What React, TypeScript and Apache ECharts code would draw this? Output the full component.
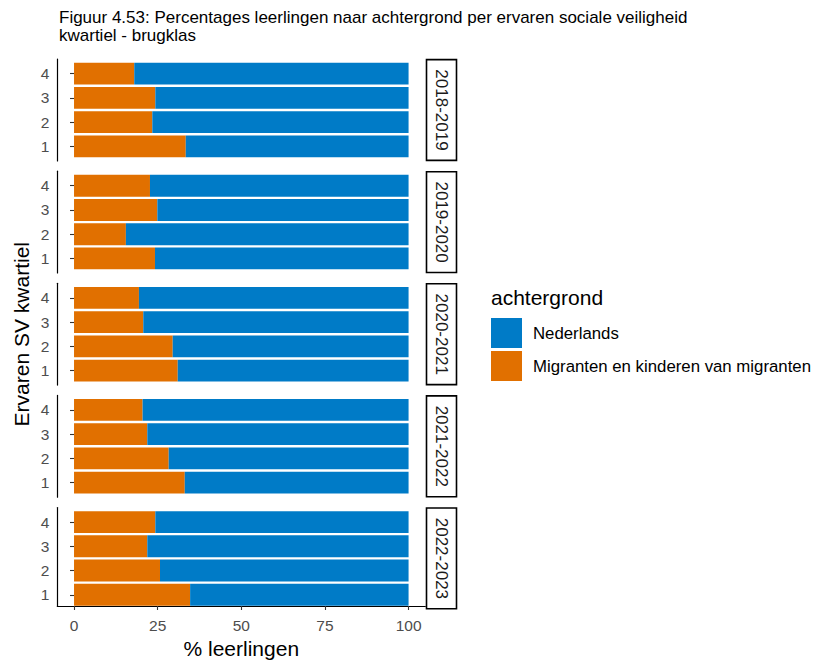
import React, { useEffect, useRef } from "react";
import * as echarts from "echarts";

const schoolYears = ["2018-2019", "2019-2020", "2020-2021", "2021-2022", "2022-2023"];
const quartiles = ["1", "2", "3", "4"];
const seriesNames = ["Nederlands", "Migranten en kinderen van migranten"];
const xTicks = [0, 25, 50, 75, 100];

// % Migranten en kinderen van migranten per quartile (1..4), per school year
const migranten2018 = [33.4, 23.4, 24.3, 18.0];
const migranten2019 = [24.2, 15.5, 24.9, 22.7];
const migranten2020 = [31.0, 29.5, 20.7, 19.4];
const migranten2021 = [33.1, 28.3, 21.9, 20.5];
const migranten2022 = [34.7, 25.7, 21.9, 24.3];

// % Nederlands per quartile (1..4), per school year
const nederlands2018 = [66.6, 76.6, 75.7, 82.0];
const nederlands2019 = [75.8, 84.5, 75.1, 77.3];
const nederlands2020 = [69.0, 70.5, 79.3, 80.6];
const nederlands2021 = [66.9, 71.7, 78.1, 79.5];
const nederlands2022 = [65.3, 74.3, 78.1, 75.7];

const migrantenByYear = [migranten2018, migranten2019, migranten2020, migranten2021, migranten2022];
const nederlandsByYear = [nederlands2018, nederlands2019, nederlands2020, nederlands2021, nederlands2022];

const BLUE = "#007BC7";
const ORANGE = "#E17000";
const FONT = "'Liberation Sans', Arial, sans-serif";

export default function App() {
  const ref = useRef<HTMLDivElement>(null);

  useEffect(() => {
    if (!ref.current) return;
    const chart = echarts.init(ref.current, null, { renderer: "svg" });

    const panelLeft = 57.3;
    const panelWidth = 368;
    const panelH = 101.8;
    const firstTop = 59.1;
    const step = 112.1;
    const unit = panelH / 4.2;

    const grids: any[] = [];
    const xAxes: any[] = [];
    const yAxes: any[] = [];
    const series: any[] = [];
    const graphics: any[] = [];

    schoolYears.forEach((yr, i) => {
      const top = firstTop + i * step;
      const isLast = i === schoolYears.length - 1;
      grids.push({ left: panelLeft, top, width: panelWidth, height: panelH, containLabel: false });
      grids.push({ left: panelLeft, top: top + unit * 0.1, width: panelWidth, height: unit * 4, containLabel: false });
      const gFull = 2 * i;
      const gBar = 2 * i + 1;

      xAxes.push({
        gridIndex: gFull,
        type: "value",
        min: -5,
        max: 105,
        show: isLast,
        splitLine: { show: false },
        axisLine: { show: true, onZero: false, lineStyle: { color: "#000", width: 1.2 } },
        axisTick: { show: true, customValues: xTicks, length: 4, lineStyle: { color: "#333", width: 1.1 } },
        axisLabel: { customValues: xTicks, margin: 11, color: "#4D4D4D", fontSize: 15.5, fontFamily: FONT },
        name: isLast ? "% leerlingen" : "",
        nameLocation: "middle",
        nameGap: 32,
        nameTextStyle: { color: "#000", fontSize: 21, fontFamily: FONT },
      });
      yAxes.push({
        gridIndex: gFull,
        type: "value",
        min: 0,
        max: 1,
        axisLine: { show: true, onZero: false, lineStyle: { color: "#000", width: 1.2 } },
        axisTick: { show: false },
        axisLabel: { show: false },
        splitLine: { show: false },
      });
      xAxes.push({
        gridIndex: gBar,
        type: "value",
        min: -5,
        max: 105,
        show: false,
        splitLine: { show: false },
      });
      yAxes.push({
        gridIndex: gBar,
        type: "category",
        data: quartiles,
        axisLine: { show: false },
        axisTick: { show: true, alignWithLabel: true, length: 4, lineStyle: { color: "#333", width: 1.1 } },
        axisLabel: { margin: 8, color: "#4D4D4D", fontSize: 15.5, fontFamily: FONT },
        splitLine: { show: false },
      });

      const xIdx = 2 * i + 1;
      const yIdx = 2 * i + 1;
      series.push({
        name: seriesNames[1],
        type: "bar",
        stack: "p" + i,
        xAxisIndex: xIdx,
        yAxisIndex: yIdx,
        barCategoryGap: "10%",
        itemStyle: { color: ORANGE },
        data: migrantenByYear[i],
      });
      series.push({
        name: seriesNames[0],
        type: "bar",
        stack: "p" + i,
        xAxisIndex: xIdx,
        yAxisIndex: yIdx,
        barCategoryGap: "10%",
        itemStyle: { color: BLUE },
        data: nederlandsByYear[i],
      });

      graphics.push({
        type: "rect",
        shape: { x: 426.5, y: top + 0.5, width: 30, height: panelH - 1 },
        style: { fill: "#fff", stroke: "#000", lineWidth: 1.6 },
      });
      graphics.push({
        type: "text",
        x: 441.5,
        y: top + panelH / 2,
        rotation: -Math.PI / 2,
        style: {
          text: yr,
          fill: "#1A1A1A",
          fontSize: 17,
          fontFamily: FONT,
          align: "center",
          verticalAlign: "middle",
        },
      });
    });

    graphics.push({
      type: "text",
      x: 21,
      y: firstTop + (4 * step + panelH) / 2,
      rotation: Math.PI / 2,
      style: {
        text: "Ervaren SV kwartiel",
        fill: "#000",
        fontSize: 21,
        fontFamily: FONT,
        align: "center",
        verticalAlign: "middle",
      },
    });
    graphics.push({
      type: "text",
      x: 491,
      y: 297,
      style: {
        text: "achtergrond",
        fill: "#000",
        fontSize: 21,
        fontFamily: FONT,
        align: "left",
        verticalAlign: "middle",
      },
    });

    chart.setOption({
      animation: false,
      backgroundColor: "#fff",
      title: {
        text: "Figuur 4.53: Percentages leerlingen naar achtergrond per ervaren sociale veiligheid\nkwartiel - brugklas",
        left: 59,
        top: 8.5,
        padding: 0,
        textStyle: { color: "#000", fontSize: 17, fontWeight: "normal", fontFamily: FONT, lineHeight: 18 },
      },
      legend: {
        data: seriesNames,
        orient: "vertical",
        left: 491,
        top: 318,
        padding: 0,
        itemWidth: 31,
        itemHeight: 30,
        itemGap: 3,
        icon: "rect",
        selectedMode: false,
        textStyle: { color: "#000", fontSize: 16.8, fontFamily: FONT, padding: [0, 0, 0, 6] },
      },
      grid: grids,
      xAxis: xAxes,
      yAxis: yAxes,
      series,
      graphic: graphics,
    });

    return () => chart.dispose();
  }, []);

  return <div ref={ref} style={{ width: 819, height: 660, position: "absolute", left: 0, top: 0 }} />;
}
